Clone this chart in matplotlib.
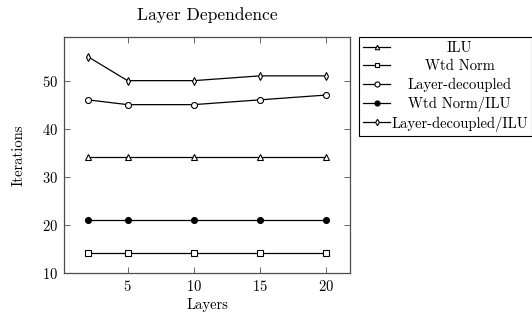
import numpy as np
import matplotlib.pyplot as plt

plt.rcParams['font.family'] = ['cmr10', 'DejaVu Serif']
plt.rcParams['axes.formatter.use_mathtext'] = True
plt.rcParams['font.size'] = 10.5

layers = [2, 5, 10, 15, 20]
ilu = [34, 34, 34, 34, 34]
wtd_norm = [14, 14, 14, 14, 14]
layer_dec = [46, 45, 45, 46, 47]
wtd_norm_ilu = [21, 21, 21, 21, 21]
layer_dec_ilu = [55, 50, 50, 51, 51]

fig = plt.figure(figsize=(5.32, 3.13), dpi=100)
W, H = 532.0, 313.0
ax = fig.add_axes([64 / W, 1 - 273 / H, (350 - 64) / W, (273 - 37) / H])

kw = dict(color='black', lw=0.9, mew=0.8)
ax.plot(layers, ilu, marker='^', ms=3.8, mfc='white', label='ILU', **kw)
ax.plot(layers, wtd_norm, marker='s', ms=3.8, mfc='white', label='Wtd Norm', **kw)
ax.plot(layers, layer_dec, marker='o', ms=4.3, mfc='white', label='Layer-decoupled', **kw)
ax.plot(layers, wtd_norm_ilu, marker='o', ms=4.3, mfc='black', label='Wtd Norm/ILU', **kw)
ax.plot(layers, layer_dec_ilu, marker='d', ms=3.8, mfc='white', label='Layer-decoupled/ILU', **kw)

ax.set_xlim(0.2, 21.8)
ax.set_ylim(9.9, 59.1)
ax.set_xticks([5, 10, 15, 20])
ax.set_yticks([10, 20, 30, 40, 50])
ax.tick_params(direction='in', top=True, right=True, length=4, width=0.6, color='0.3', pad=4)
for s in ax.spines.values():
    s.set_linewidth(0.9)
    s.set_color('0.3')

ax.set_title('Layer Dependence', pad=12)
ax.set_xlabel('Layers', labelpad=3)
ax.set_ylabel('Iterations', labelpad=12)

leg = ax.legend(loc='upper left', bbox_to_anchor=(359 / W, 1 - 37 / H),
                bbox_transform=fig.transFigure, borderaxespad=0,
                fancybox=False, framealpha=1, edgecolor='black',
                handlelength=1.8, handletextpad=0.1, labelspacing=0.3,
                borderpad=0.3, handleheight=0.7, markerscale=0.85)
leg.get_frame().set_linewidth(0.8)

# centre the legend texts like pgfplots does
fig.canvas.draw()
r = fig.canvas.get_renderer()
ws = [t.get_window_extent(r).width for t in leg.get_texts()]
mw = max(ws)
for t, w in zip(leg.get_texts(), ws):
    t.set_position(((mw - w) / 2, 0))

fig.savefig('out.png', dpi=100)
